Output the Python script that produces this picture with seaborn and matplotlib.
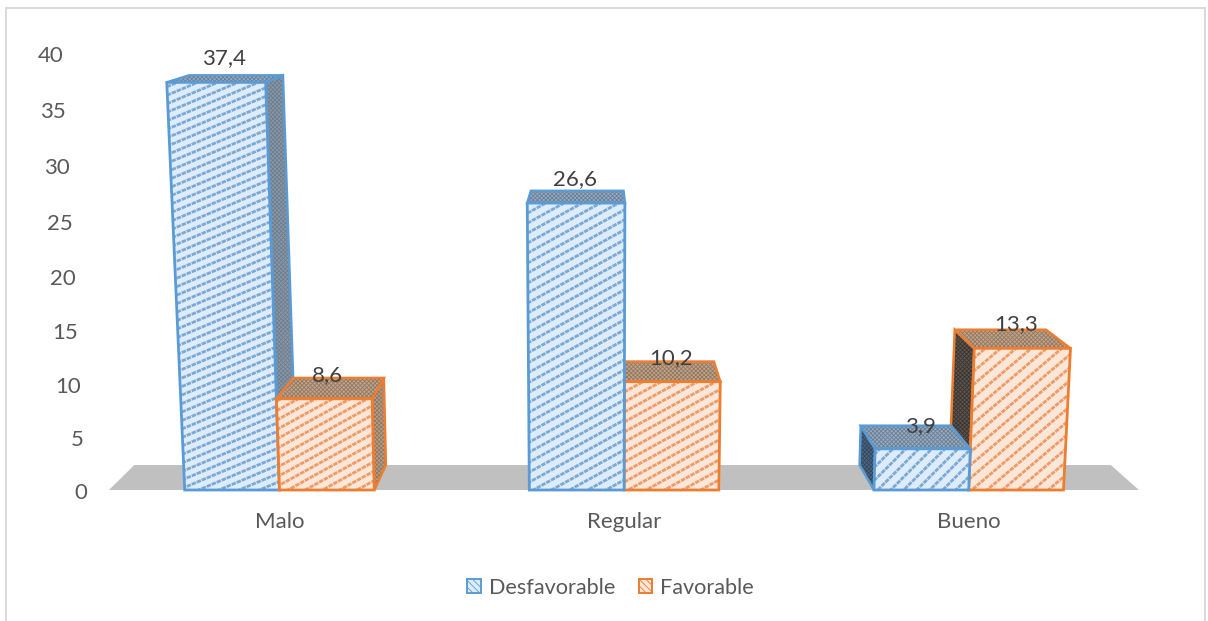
import numpy as np
import pandas as pd
import matplotlib
matplotlib.use("Agg")
import matplotlib.pyplot as plt
import seaborn as sns
from matplotlib.patches import Patch, Polygon, Rectangle
from matplotlib.collections import LineCollection

categorias = ["Malo", "Regular", "Bueno"]
desfavorable = [37.4, 26.6, 3.9]
favorable = [8.6, 10.2, 13.3]
grupos = ["Desfavorable", "Favorable"]
y_ticks = [0, 5, 10, 15, 20, 25, 30, 35, 40]

df = pd.DataFrame({
    "categoria": categorias * 2,
    "grupo": [grupos[0]] * 3 + [grupos[1]] * 3,
    "valor": desfavorable + favorable,
})

# perspective of the fake 3d scene, in pixels
W, H = 1208, 621
BASE = 490
X0, XS = 279.5, 344.6
A, B = 10.52, 0.00093
CX, VP = 598.0, 9371.0
SHRINK = 0.052

sns.set_theme(style="white")
plt.rcParams["font.family"] = ["Lato", "DejaVu Sans"]
plt.rcParams["hatch.linewidth"] = 0.6

fig = plt.figure(figsize=(W / 100, H / 100), dpi=100)
ax = fig.add_axes([0, (H - BASE) / H, 1, BASE / H])

sns.barplot(data=df, x="categoria", y="valor", hue="grupo", order=categorias,
            hue_order=grupos, width=0.55, gap=0, palette=["white", "white"],
            legend=False, ax=ax, zorder=1)
ax.set_xlim(-X0 / XS, (W - X0) / XS)
ax.set_ylim(0, BASE / A)
ax.set_xlabel("")
ax.set_ylabel("")
ax.set_yticks([])
sns.despine(ax=ax, left=True, bottom=True)
ax.tick_params(axis="x", length=0, pad=16, labelsize=16, labelcolor="#595959")


def proj(x, v, d=0.0):
    h = A * v / (1 - B * v)
    px = CX + (X0 + x * XS - CX) * (1 + h / VP)
    if d:
        px = CX + (px - CX) * (1 - SHRINK * d)
        h = h + d * (25 - 0.48 * v)
    return (px - X0) / XS, h / A


def face(pts, fc, ec, hatch_color, z):
    ax.add_patch(Polygon(pts, closed=True, facecolor=fc, edgecolor=hatch_color,
                         hatch="xxxxxxxx", lw=0, zorder=z))
    ax.add_patch(Polygon(pts, closed=True, fill=False, edgecolor=ec, lw=1.8,
                         zorder=z + 0.2, clip_on=False))


def striped_face(pts, slope, gap, bg, stripe, ec, z):
    patch = Polygon(pts, closed=True, facecolor=bg, edgecolor="none", zorder=z)
    ax.add_patch(patch)
    # stripes in pixel units, then back to data units
    xs = np.array([p[0] for p in pts]) * XS
    ys = np.array([p[1] for p in pts]) * A
    offs = ys - slope * xs
    lines = []
    for c in np.arange(offs.min() - gap, offs.max() + gap, gap):
        lines.append([(xs.min() / XS, (slope * xs.min() + c) / A),
                      (xs.max() / XS, (slope * xs.max() + c) / A)])
    lc = LineCollection(lines, colors=stripe, linewidths=2.0,
                        linestyles=[(0, (1.6, 0.35))], zorder=z + 0.1)
    ax.add_collection(lc)
    lc.set_clip_path(patch)
    ax.add_patch(Polygon(pts, closed=True, fill=False, edgecolor=ec, lw=2.0,
                         zorder=z + 0.2, clip_on=False))


# floor
fl, fr = -0.495, 2.494
ax.add_patch(Polygon([proj(fl, 0), proj(fr, 0), proj(fr, 0, 1), proj(fl, 0, 1)],
                     closed=True, facecolor="#c0c0c0", edgecolor="none", zorder=0.5))

estilos = {
    "Desfavorable": dict(bg="#dcecfa", stripe="#7ea8d2", ec="#5b9bd5", top="#93abc4",
                         side="#8a97a4", side_r="#4a6682", hatch="#6d7f92", hatch_r="#34485c"),
    "Favorable": dict(bg="#fce6d7", stripe="#eb9c6a", ec="#ed7d31", top="#bfa58d",
                      side="#b59d88", side_r="#5e544b", hatch="#93785f", hatch_r="#3a3532"),
}
pendiente = {"Desfavorable": [0.42, 0.55, 1.0], "Favorable": [0.55, 0.55, 0.85]}
separacion = {"Desfavorable": [8.5, 10.0, 13.0], "Favorable": [9.5, 10.0, 13.0]}
label_nudge = {"Desfavorable": [(-12, 17), (-2, 12), (15, 0)],
               "Favorable": [(-11, 3), (3, 3), (16, 6)]}

bars = []
for i, bar in enumerate(ax.patches[:6]):
    grupo = grupos[i // 3]
    bars.append((bar.get_x(), bar.get_x() + bar.get_width(), bar.get_height(), grupo, i % 3))

# paint the bars far from the centre first
center = (CX - X0) / XS
bars.sort(key=lambda b: -abs((b[0] + b[1]) / 2 - center))

for n, (x1, x2, v, grupo, k) in enumerate(bars):
    st = estilos[grupo]
    z = 2 + n
    if x2 < center:
        face([proj(x2, 0), proj(x2, v), proj(x2, v, 1), proj(x2, 0, 1)],
             st["side"], st["ec"], st["hatch"], z)
    if x1 > center:
        face([proj(x1, 0), proj(x1, v), proj(x1, v, 1), proj(x1, 0, 1)],
             st["side_r"], st["ec"], st["hatch_r"], z)
    face([proj(x1, v), proj(x2, v), proj(x2, v, 1), proj(x1, v, 1)],
         st["top"], st["ec"], st["hatch"], z + 0.3)
    striped_face([proj(x1, 0), proj(x2, 0), proj(x2, v), proj(x1, v)],
                 pendiente[grupo][k], separacion[grupo][k],
                 st["bg"], st["stripe"], st["ec"], z + 0.6)
    ax.annotate(f"{v:.1f}".replace(".", ","), proj((x1 + x2) / 2, v, 1),
                xytext=label_nudge[grupo][k], textcoords="offset pixels",
                ha="center", va="center", fontsize=16, color="#404040",
                zorder=20, annotation_clip=False)

for t in y_ticks:
    ax.annotate(str(t), proj((87 - X0) / XS, t), xytext=(0, -3), textcoords="offset pixels",
                ha="right", va="center", fontsize=16, color="#595959", annotation_clip=False)

handles = [Patch(facecolor="#dcecfa", edgecolor="#5b9bd5", hatch="\\\\\\\\\\", lw=1.4),
           Patch(facecolor="#fce6d7", edgecolor="#ed7d31", hatch="\\\\\\\\\\", lw=1.4)]
ax.legend(handles, grupos, loc="center", bbox_to_anchor=(610.5 / W, 1 - 588 / H),
          bbox_transform=fig.transFigure, ncol=2, frameon=False, fontsize=15.6,
          handlelength=0.62, handleheight=0.62, handletextpad=0.36, columnspacing=1.1,
          labelcolor="#595959")

# border runs off the bottom of the picture
fig.add_artist(Rectangle((5.5 / W, -10 / H), 1199.5 / W, (H - 8 + 10) / H, fill=False,
                         edgecolor="#d9d9d9", lw=1.4, transform=fig.transFigure))

fig.savefig("out.png", dpi=100)
